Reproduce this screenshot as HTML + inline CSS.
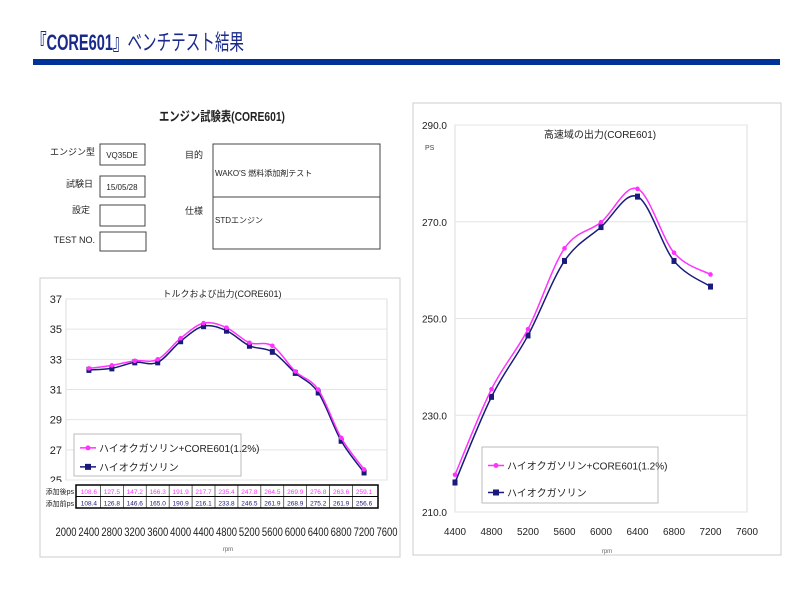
<!DOCTYPE html>
<html><head><meta charset="utf-8">
<style>
body{margin:0;background:#fff;}
svg{display:block;font-family:"Liberation Sans","Noto Sans CJK JP",sans-serif;}
</style></head>
<body>
<svg id="s" width="800" height="600" viewBox="0 0 800 600">
<text x="32" y="50" font-size="22" fill="#1a2a8a" font-weight="bold" textLength="212" lengthAdjust="spacingAndGlyphs">『CORE601』<tspan font-weight="normal">ベンチテスト結果</tspan></text>
<rect x="33" y="59" width="747" height="6" fill="#003399"/>

<g font-size="9" fill="#222">
<text x="222" y="121" font-size="13" text-anchor="middle" font-weight="bold" textLength="126" lengthAdjust="spacingAndGlyphs">エンジン試験表(CORE601)</text>
<text x="95" y="155" text-anchor="end">エンジン型</text>
<rect x="100" y="144" width="45" height="21" fill="#fff" stroke="#444"/>
<text x="122" y="158" text-anchor="middle" font-size="8">VQ35DE</text>
<text x="93" y="187" text-anchor="end">試験日</text>
<rect x="100" y="176" width="45" height="21" fill="#fff" stroke="#444"/>
<text x="122" y="190" text-anchor="middle" font-size="8">15/05/28</text>
<text x="90" y="213" text-anchor="end">設定</text>
<rect x="100" y="205" width="45" height="21" fill="#fff" stroke="#444"/>
<text x="95" y="243" text-anchor="end">TEST NO.</text>
<rect x="100" y="232" width="46" height="19" fill="#fff" stroke="#444"/>
<text x="185" y="158">目的</text>
<text x="185" y="214">仕様</text>
<rect x="213" y="144" width="167" height="105" fill="#fff" stroke="#444"/>
<line x1="213" y1="197" x2="380" y2="197" stroke="#444"/>
<text x="215" y="176" font-size="8">WAKO'S 燃料添加剤テスト</text>
<text x="215" y="223" font-size="8">STDエンジン</text>
</g>

<rect x="40" y="278" width="360" height="279" fill="#fff" stroke="#ccc"/>
<rect x="413" y="103" width="368" height="452" fill="#fff" stroke="#ccc"/>
<g id="L"></g>
<g id="R"></g>
</svg>
<script>
// Torque chart data
const torqueRpm=[2400,2800,3200,3600,4000,4400,4800,5200,5600,6000,6400,6800,7200];
const torqueAdded=[32.4,32.6,32.9,33.0,34.4,35.4,35.1,34.1,33.9,32.2,31.0,27.8,25.7];
const torqueBase=[32.3,32.4,32.8,32.8,34.2,35.2,34.9,33.9,33.5,32.1,30.8,27.6,25.5];
const torqueYTicks=[25,27,29,31,33,35,37];
const torqueXTicks=[2000,2400,2800,3200,3600,4000,4400,4800,5200,5600,6000,6400,6800,7200,7600];
const psAddedLabels=["108.6","127.5","147.2","166.3","191.9","217.7","235.4","247.8","264.5","269.9","276.8","263.6","259.1"];
const psBaseLabels=["108.4","126.8","146.6","165.0","190.9","216.1","233.8","246.5","261.9","268.9","275.2","261.9","256.6"];
// Power chart data
const powerRpm=[4400,4800,5200,5600,6000,6400,6800,7200];
const powerAdded=[217.7,235.4,247.8,264.5,269.9,276.8,263.6,259.1];
const powerBase=[216.1,233.8,246.5,261.9,268.9,275.2,261.9,256.6];
const powerYTicks=[210,230,250,270,290];
const powerXTicks=[4400,4800,5200,5600,6000,6400,6800,7200,7600];

const NS="http://www.w3.org/2000/svg";
function mk(p,t,a){const e=document.createElementNS(NS,t);for(const k in a)e.setAttribute(k,a[k]);p.appendChild(e);return e;}
function smooth(pts){let d="M"+pts[0][0]+","+pts[0][1];for(let i=0;i<pts.length-1;i++){const p0=pts[i-1]||pts[i],p1=pts[i],p2=pts[i+1],p3=pts[i+2]||p2;const c1=[p1[0]+(p2[0]-p0[0])/6,p1[1]+(p2[1]-p0[1])/6],c2=[p2[0]-(p3[0]-p1[0])/6,p2[1]-(p3[1]-p1[1])/6];d+=" C"+c1+" "+c2+" "+p2;}return d;}

function chart(g,o){
 const X=v=>o.x0+(v-o.xmin)/(o.xmax-o.xmin)*(o.x1-o.x0);
 const Y=v=>o.y0-(v-o.ymin)/(o.ymax-o.ymin)*(o.y0-o.y1);
 const pa=mk(g,"rect",{x:X(o.xmin),y:o.y1,width:o.x1-o.x0,height:o.y0-o.y1,fill:"#fff",stroke:"#ddd"});
 
 
 o.yt.forEach(v=>{
  const l=mk(g,"line",{x1:o.x0,x2:o.x1,y1:Y(v),y2:Y(v),stroke:"#e4e4e4"});
  
  
  const t=mk(g,"text",{x:o.ylx,y:Y(v)+4,"font-size":o.yfs,"text-anchor":"end",fill:"#222"});t.textContent=o.yfmt(v);
  
  
 });
 o.xt.forEach(v=>{
  const t=mk(g,"text",{x:X(v),y:o.xly,"font-size":o.xfs,"text-anchor":"middle",fill:"#222",textLength:o.xtl,lengthAdjust:"spacingAndGlyphs"});t.textContent=v;
  
  
 });
 const series=[[o.b,"#1a1a7a","base"],[o.a,"#ff33ff","added"]];
 series.forEach(([vals,c,n])=>{
  const pts=o.xs.map((x,i)=>[X(x),Y(vals[i])]);
  const p=mk(g,"path",{d:smooth(pts),fill:"none",stroke:c,"stroke-width":1.5});
  
  
  pts.forEach(q=>{
   let m;
   if(n=="base")m=mk(g,"rect",{x:q[0]-2.5,y:q[1]-3,width:5,height:6,fill:c});
   else m=mk(g,"circle",{cx:q[0],cy:q[1],r:2.3,fill:c});
   
   
  });
 });
 return {X,Y};
}
const L=document.getElementById("L"),R=document.getElementById("R");
const lc=chart(L,{x0:66,x1:387,xmin:2000,xmax:7600,y0:480,y1:299,ymin:25,ymax:37,xs:torqueRpm,a:torqueAdded,b:torqueBase,yt:torqueYTicks,xt:torqueXTicks,ylx:62,xly:536,yfs:11,xfs:12,xtl:21,yfmt:v=>v});
const rc=chart(R,{x0:455,x1:747,xmin:4400,xmax:7600,y0:512,y1:125,ymin:210,ymax:290,xs:powerRpm,a:powerAdded,b:powerBase,yt:powerYTicks,xt:powerXTicks,ylx:447,xly:535,yfs:10,xfs:10,xtl:22,yfmt:v=>v.toFixed(1)});

function txt(g,x,y,s,fs,name,anchor,fill){const t=mk(g,"text",{x:x,y:y,"font-size":fs,"text-anchor":anchor||"start",fill:fill||"#222"});t.textContent=s;
 
 return t;}
txt(L,222,297,"トルクおよび出力(CORE601)",9,"torque-chart-title","middle");
txt(L,228,551,"rpm",6,"torque-x-title","middle","#666");
txt(R,600,138,"高速域の出力(CORE601)",10,"power-chart-title","middle");
txt(R,425,150,"PS",7,"power-y-unit","start","#444");
txt(R,607,553,"rpm",6,"power-x-title","middle","#666");

// legends
function legend(g,x,y,w,h,fs,gap){
 const r=mk(g,"rect",{x:x,y:y,width:w,height:h,fill:"#fff",stroke:"#bbb"});
 
 
 const items=[["#ff33ff","ハイオクガソリン+CORE601(1.2%)","added"],["#1a1a7a","ハイオクガソリン","base"]];
 items.forEach((it,i)=>{
  const yy=y+h*0.33+i*gap;
  mk(g,"line",{x1:x+6,x2:x+22,y1:yy,y2:yy,stroke:it[0],"stroke-width":1.5});
  if(it[2]=="base")mk(g,"rect",{x:x+11,y:yy-3,width:6,height:6,fill:it[0]});else mk(g,"circle",{cx:x+14,cy:yy,r:2.5,fill:it[0]});
  txt(g,x+25,yy+4,it[1],fs,"legend-entry-"+it[2]);
 });
}
legend(L,74,434,167,42,10,19);
legend(R,482,447,176,56,10,27);

// data table in torque chart
const tb=mk(L,"g",{});


mk(tb,"rect",{x:41,y:482,width:350,height:28,fill:"#fff"});
mk(tb,"rect",{x:76,y:485,width:302,height:23,fill:"#fff",stroke:"#000","stroke-width":1.5});
mk(tb,"line",{x1:76,x2:378,y1:496.5,y2:496.5,stroke:"#000"});
txt(tb,74,494,"添加後ps",7,"row-label-added","end");
txt(tb,74,506,"添加前ps",7,"row-label-base","end");
torqueRpm.forEach((v,i)=>{
 const x=lc.X(v);
 if(i>0)mk(tb,"line",{x1:x-11.5,x2:x-11.5,y1:485,y2:508,stroke:"#000","stroke-width":0.6});
 txt(tb,x,494,psAddedLabels[i],6.5,"cell-added","middle","#ff33ff");
 txt(tb,x,505.5,psBaseLabels[i],6.5,"cell-base","middle","#1a1a7a");
});
</script>
</body></html>
